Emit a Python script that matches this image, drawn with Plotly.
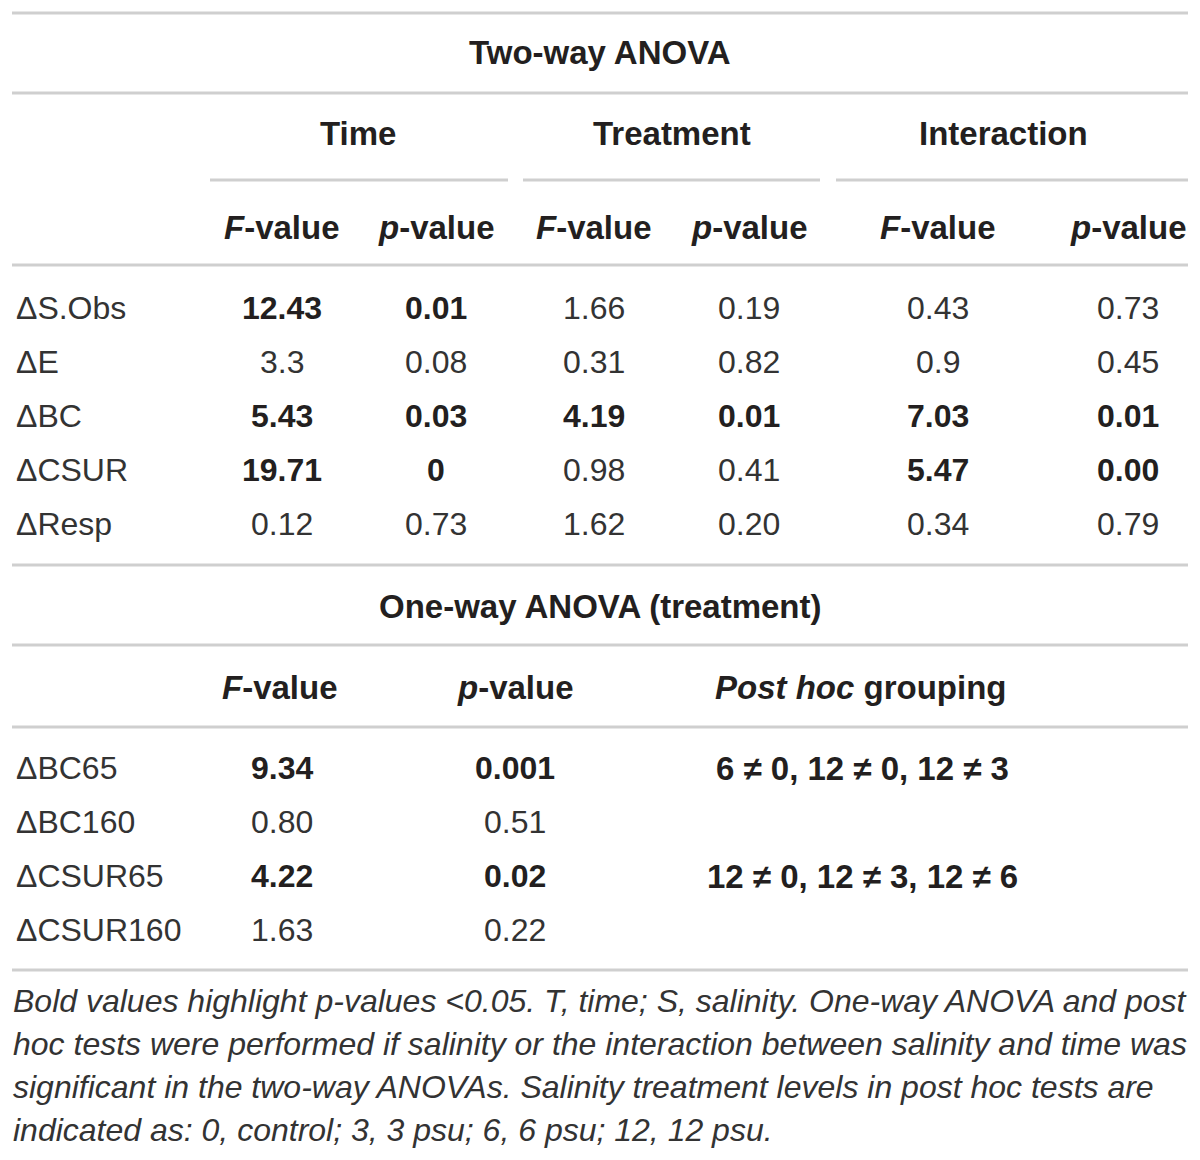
import plotly.graph_objects as go

# Two-way ANOVA block
two_way_title = "Two-way ANOVA"
factor_labels = ["Time", "Treatment", "Interaction"]
two_way_rows = ["ΔS.Obs", "ΔE", "ΔBC", "ΔCSUR", "ΔResp"]
time_f = ["12.43", "3.3", "5.43", "19.71", "0.12"]
time_p = ["0.01", "0.08", "0.03", "0", "0.73"]
treat_f = ["1.66", "0.31", "4.19", "0.98", "1.62"]
treat_p = ["0.19", "0.82", "0.01", "0.41", "0.20"]
inter_f = ["0.43", "0.9", "7.03", "5.47", "0.34"]
inter_p = ["0.73", "0.45", "0.01", "0.00", "0.79"]
# significant (bold) per row, per factor: time, treatment, interaction
two_way_bold = [
    [True, False, False],
    [False, False, False],
    [True, True, True],
    [True, False, True],
    [False, False, False],
]

# One-way ANOVA block
one_way_title = "One-way ANOVA (treatment)"
one_way_rows = ["ΔBC65", "ΔBC160", "ΔCSUR65", "ΔCSUR160"]
one_f = ["9.34", "0.80", "4.22", "1.63"]
one_p = ["0.001", "0.51", "0.02", "0.22"]
post_hoc = ["6 ≠ 0, 12 ≠ 0, 12 ≠ 3", "", "12 ≠ 0, 12 ≠ 3, 12 ≠ 6", ""]
one_bold = [True, False, True, False]

footnote = [
    "Bold values highlight p-values <0.05. T, time; S, salinity. One-way ANOVA and post",
    "hoc tests were performed if salinity or the interaction between salinity and time was",
    "significant in the two-way ANOVAs. Salinity treatment levels in post hoc tests are",
    "indicated as: 0, control; 3, 3 psu; 6, 6 psu; 12, 12 psu.",
]

FONT = "Liberation Sans, Arial, sans-serif"
INK = "#231f20"
SOFT = "#333333"
RULE = "#cfcfcf"
HEAD_SIZE = 33
BODY_SIZE = 32

fig = go.Figure()
annotations = []
shapes = []


def text(x, y, s, size=BODY_SIZE, bold=False, anchor="center", color=None):
    if bold:
        s = "<b>" + s + "</b>"
    if color is None:
        color = INK if bold else SOFT
    annotations.append(dict(
        x=x, y=y, xref="x", yref="y", text=s, showarrow=False,
        xanchor=anchor, yanchor="middle",
        font=dict(family=FONT, size=size, color=color),
    ))


def rule(x0, x1, y):
    shapes.append(dict(
        type="line", xref="x", yref="y", x0=x0, x1=x1, y0=y, y1=y,
        line=dict(color=RULE, width=3),
    ))


# rules
for y in [13, 93, 265, 565, 645, 727, 970]:
    rule(12, 1188, y)
for x0, x1 in [(210, 508), (523, 820), (836, 1188)]:
    rule(x0, x1, 180)

# two-way headers
text(600, 52, two_way_title, size=HEAD_SIZE, bold=True)
for x, lab in zip([358, 672, 1003], factor_labels):
    text(x, 133, lab, size=HEAD_SIZE, bold=True)

col_x = [282, 436, 594, 749, 938, 1128]
for i, x in enumerate(col_x):
    lab = "<i>F</i>-value" if i % 2 == 0 else "<i>p</i>-value"
    text(x, 227, lab, size=HEAD_SIZE, bold=True)

row_y = [308, 362, 416, 470, 524]
columns = [time_f, time_p, treat_f, treat_p, inter_f, inter_p]
for r, y in enumerate(row_y):
    text(14, y, two_way_rows[r], anchor="left")
    for c, x in enumerate(col_x):
        text(x, y, columns[c][r], bold=two_way_bold[r][c // 2])

# one-way
text(600, 606, one_way_title, size=HEAD_SIZE, bold=True)
text(280, 687, "<i>F</i>-value", size=HEAD_SIZE, bold=True)
text(515, 687, "<i>p</i>-value", size=HEAD_SIZE, bold=True)
text(861, 687, "<i>Post hoc</i> grouping", size=HEAD_SIZE, bold=True)

row_y2 = [768, 822, 876, 930]
for r, y in enumerate(row_y2):
    text(14, y, one_way_rows[r], anchor="left")
    text(282, y, one_f[r], bold=one_bold[r])
    text(515, y, one_p[r], bold=one_bold[r])
    if post_hoc[r]:
        text(862, y, post_hoc[r], size=33, bold=True)

# footnote
for i, line in enumerate(footnote):
    text(11, 1001 + i * 43, "<i>" + line + "</i>", size=32, anchor="left", color=SOFT)

# page body has an 8px margin, so offset the ranges to keep reference pixel coords
fig.update_layout(
    width=1200, height=1160,
    margin=dict(l=0, r=0, t=0, b=0),
    paper_bgcolor="white", plot_bgcolor="white",
    xaxis=dict(range=[8, 1208], visible=False, fixedrange=True),
    yaxis=dict(range=[1168, 8], visible=False, fixedrange=True),
    annotations=annotations,
    shapes=shapes,
    showlegend=False,
)

fig.write_html("out.html")
